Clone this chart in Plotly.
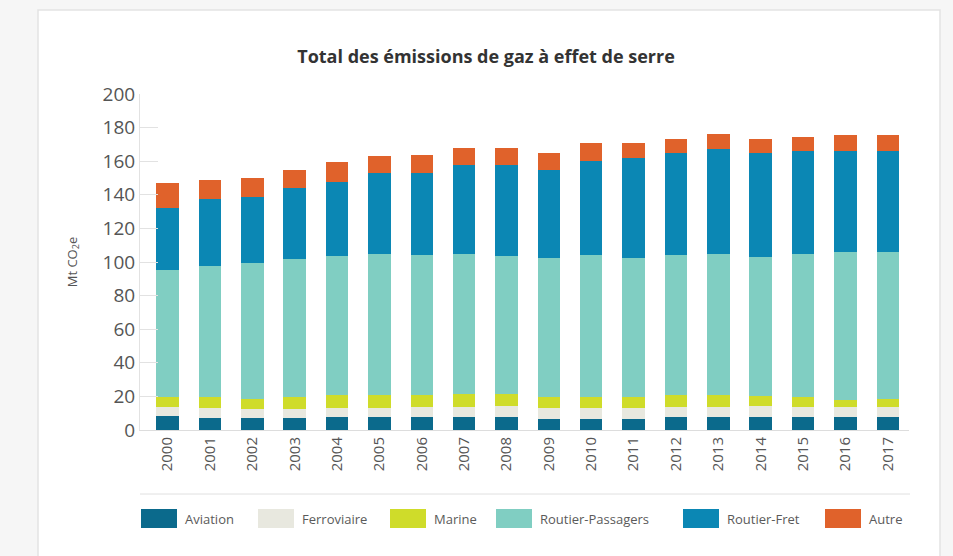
import plotly.graph_objects as go

years = [str(y) for y in range(2000, 2018)]

aviation = [8.4, 7.0, 7.0, 7.0, 7.6, 7.6, 7.6, 8.0, 8.0, 6.4, 6.4, 6.4, 7.6, 8.0, 7.6, 7.6, 7.6, 7.6]
ferroviaire = [5.1, 6.0, 5.4, 5.4, 5.4, 5.4, 5.9, 5.9, 6.3, 6.6, 6.6, 6.6, 5.9, 5.9, 6.7, 6.3, 5.9, 5.9]
marine = [6.0, 6.5, 5.9, 7.2, 7.9, 7.9, 7.4, 7.6, 7.2, 6.6, 6.9, 6.9, 7.4, 7.0, 6.0, 6.0, 4.4, 4.8]
routier_passagers = [76.0, 78.4, 81.2, 81.9, 82.6, 84.0, 83.0, 83.5, 82.0, 82.9, 84.0, 82.6, 83.0, 84.0, 82.6, 85.0, 88.0, 87.6]
routier_fret = [36.8, 39.4, 39.4, 42.4, 44.1, 47.9, 49.3, 52.6, 54.1, 52.1, 56.3, 59.7, 60.7, 62.3, 61.7, 60.9, 60.3, 60.3]
autre = [14.6, 11.5, 11.1, 10.9, 12.0, 10.4, 10.4, 10.2, 10.0, 10.0, 10.4, 8.4, 8.5, 8.9, 8.9, 8.7, 9.3, 9.3]

names = ["Aviation", "Ferroviaire", "Marine", "Routier-Passagers", "Routier-Fret", "Autre"]
colors = ["#0b6a8c", "#e8e8df", "#cfdc2a", "#80cec2", "#0b87b4", "#e0622b"]
series = [aviation, ferroviaire, marine, routier_passagers, routier_fret, autre]

y_ticks = list(range(0, 201, 20))

fig = go.Figure()
for name, col, vals in zip(names, colors, series):
    fig.add_trace(go.Bar(x=years, y=vals, name=name, marker=dict(color=col, line=dict(width=0)),
                         showlegend=False))

FONT = "Open Sans"
L, R = 140, 909
T, B = 94, 430

def px_x(px):
    return (px - L) / (R - L)

def px_y(py):
    return (B - py) / (B - T)

shapes = []
annotations = []
# card frame
shapes.append(dict(type="rect", xref="paper", yref="paper", x0=px_x(38), x1=px_x(940),
                   y0=px_y(600), y1=px_y(10), fillcolor="white",
                   line=dict(color="#e3e3e3", width=1.5), layer="below"))
# separator line above legend
shapes.append(dict(type="line", xref="paper", yref="paper", x0=px_x(140), x1=px_x(910),
                   y0=px_y(494), y1=px_y(494), line=dict(color="#e0e0e0", width=1)))

# manual legend
legend_x = [141, 258, 390, 496, 683, 825]
for name, col, lx in zip(names, colors, legend_x):
    shapes.append(dict(type="rect", xref="paper", yref="paper", x0=px_x(lx), x1=px_x(lx + 36),
                       y0=px_y(528), y1=px_y(509), fillcolor=col, line=dict(width=0)))
    annotations.append(dict(xref="paper", yref="paper", x=px_x(lx + 42), y=px_y(519),
                            text=name, showarrow=False, xanchor="left", yanchor="middle",
                            font=dict(family=FONT, size=13, color="#5a5a5a")))

fig.update_layout(
    width=953, height=556,
    margin=dict(l=L, r=953 - R, t=T, b=556 - B),
    paper_bgcolor="#f6f6f6",
    plot_bgcolor="white",
    barmode="stack",
    bargap=0.47,
    title=dict(text="<b>Total des émissions de gaz à effet de serre</b>", x=0.51, xanchor="center",
               y=1 - 57 / 556, yanchor="middle",
               font=dict(family=FONT, size=18, color="#333333")),
    font=dict(family=FONT, color="#555555"),
    xaxis=dict(type="category", range=[-0.65, 17.5], tickangle=-90,
               tickfont=dict(family=FONT, size=15, color="#555555"),
               showline=True, linecolor="#dddddd", linewidth=1,
               ticks="", showgrid=False, zeroline=False),
    yaxis=dict(range=[0, 200], tickvals=y_ticks,
               tickfont=dict(family=FONT, size=19, color="#555555"),
               ticks="inside", ticklen=18, tickcolor="#e2e2e2", tickwidth=1,
               showline=True, linecolor="#e2e2e2", linewidth=1,
               showgrid=False, zeroline=False,
               title=dict(text="Mt CO<sub>2</sub>e", font=dict(family=FONT, size=13, color="#555555"),
                          standoff=22)),
    shapes=shapes,
    annotations=annotations,
)

fig.write_html("out.html", config={"displayModeBar": False},
               post_script="document.body.style.margin='0';")
